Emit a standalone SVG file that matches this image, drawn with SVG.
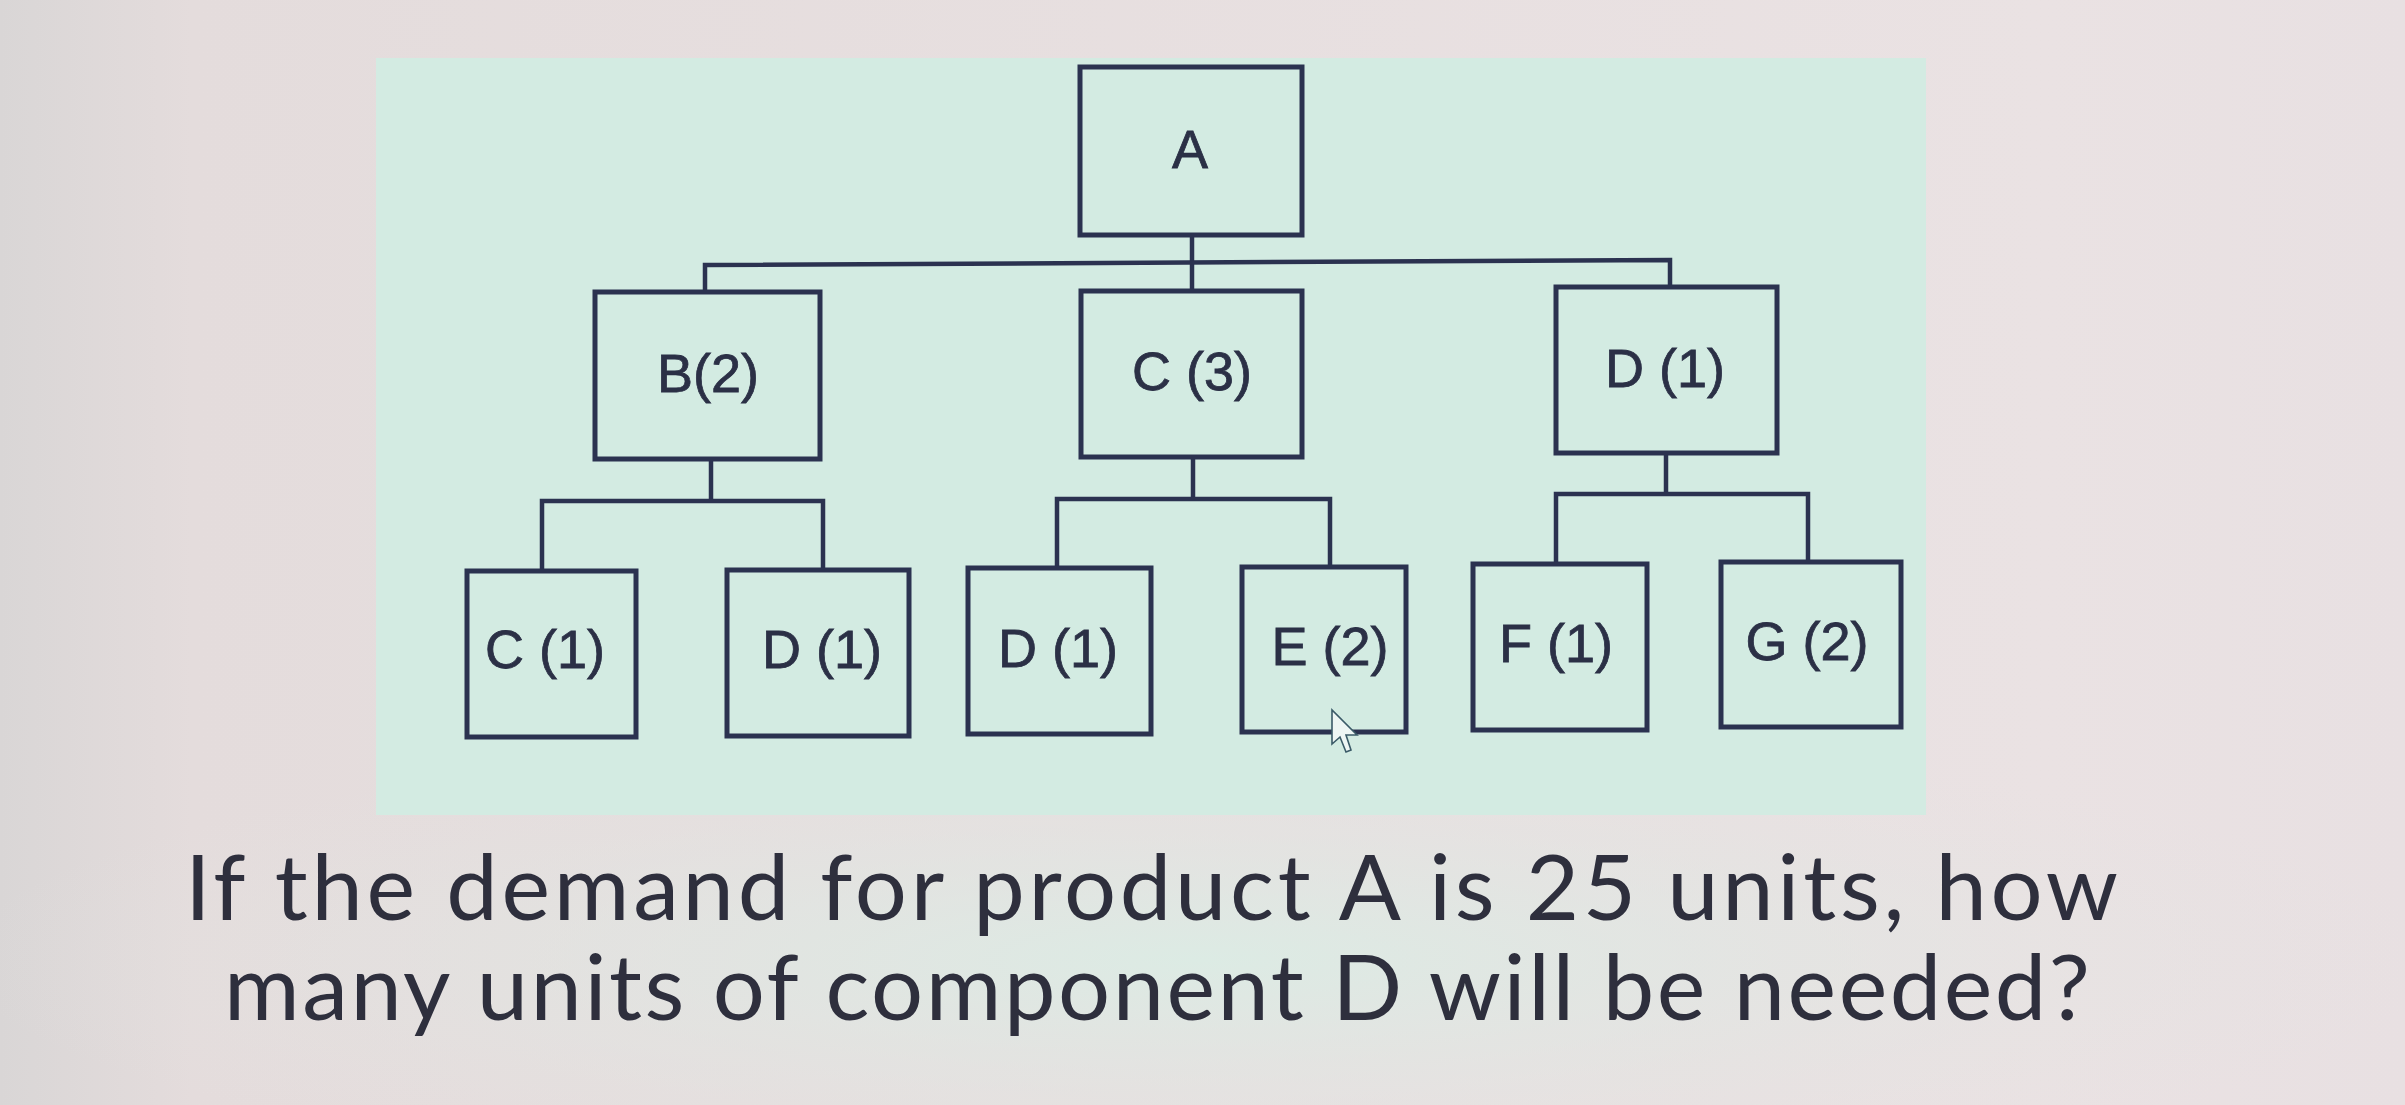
<svg xmlns="http://www.w3.org/2000/svg" width="2405" height="1105" viewBox="0 0 2405 1105">
<style>
.box{fill:none;stroke:#2b3250;stroke-width:5}
.lbl{font-family:"Liberation Sans",Arial,sans-serif;font-size:54px;fill:#2b3046;stroke:#2b3046;stroke-width:0.8;text-anchor:middle}
.con{fill:none;stroke:#2b3250;stroke-width:4.5}
.q{font-family:Lato,"Noto Sans",sans-serif;font-size:92px;fill:#2e2f3d}
</style>
<defs>
<linearGradient id="bg" x1="0" y1="0" x2="1" y2="0">
<stop offset="0" stop-color="#d9d6d6"/>
<stop offset="0.08" stop-color="#e4dcdc"/>
<stop offset="0.85" stop-color="#eae2e3"/>
<stop offset="1" stop-color="#e8e0e2"/>
</linearGradient>
<radialGradient id="lower" cx="0.5" cy="0.5" r="0.5">
<stop offset="0" stop-color="#dcebe4"/>
<stop offset="1" stop-color="#e4e3e1" stop-opacity="0"/>
</radialGradient>
</defs>
<rect width="2405" height="1105" fill="url(#bg)"/>
<ellipse cx="1200" cy="960" rx="1250" ry="230" fill="url(#lower)"/>
<rect x="376" y="58" width="1550" height="757" fill="#d3ebe2"/>

<g id="connectors">
<polyline class="con" points="1192,235 1192,291"/>
<polyline class="con" points="705,292 705,265 1670,260 1670,287"/>
<polyline class="con" points="711,459 711,501"/>
<polyline class="con" points="542,571 542,501 823,501 823,570"/>
<polyline class="con" points="1193,457 1193,499"/>
<polyline class="con" points="1057,568 1057,499 1330,499 1330,567"/>
<polyline class="con" points="1666,453 1666,494"/>
<polyline class="con" points="1556,564 1556,494 1808,494 1808,562"/>
</g>

<g id="nA"><rect class="box" x="1080" y="67" width="222" height="168"/><text class="lbl" x="1190" y="168">A</text></g>
<g id="nB"><rect class="box" x="595" y="292" width="225" height="167"/><text class="lbl" x="708" y="392">B(2)</text></g>
<g id="nC3"><rect class="box" x="1081" y="291" width="221" height="166"/><text class="lbl" x="1192" y="390">C (3)</text></g>
<g id="nD1"><rect class="box" x="1556" y="287" width="221" height="166"/><text class="lbl" x="1665" y="387">D (1)</text></g>

<g id="nC1"><rect class="box" x="467" y="571" width="169" height="166"/><text class="lbl" x="545" y="668">C (1)</text></g>
<g id="nD1a"><rect class="box" x="727" y="570" width="182" height="166"/><text class="lbl" x="822" y="668">D (1)</text></g>
<g id="nD1b"><rect class="box" x="968" y="568" width="183" height="166"/><text class="lbl" x="1058" y="667">D (1)</text></g>
<g id="nE2"><rect class="box" x="1242" y="567" width="164" height="165"/><text class="lbl" x="1330" y="665">E (2)</text></g>
<g id="nF1"><rect class="box" x="1473" y="564" width="174" height="166"/><text class="lbl" x="1556" y="662">F (1)</text></g>
<g id="nG2"><rect class="box" x="1721" y="562" width="180" height="165"/><text class="lbl" x="1807" y="660">G (2)</text></g>

<path d="M1332,710 L1332,744 L1340,737 L1346,752 L1351,750 L1346,735 L1357,735 Z" fill="#eef6f4" stroke="#3b5b68" stroke-width="1.6"/>

<text class="q" x="185" y="920" textLength="1933" lengthAdjust="spacing">If the demand for product A is 25 units, how</text>
<text class="q" x="224" y="1020" textLength="1866" lengthAdjust="spacing">many units of component D will be needed?</text>
</svg>
